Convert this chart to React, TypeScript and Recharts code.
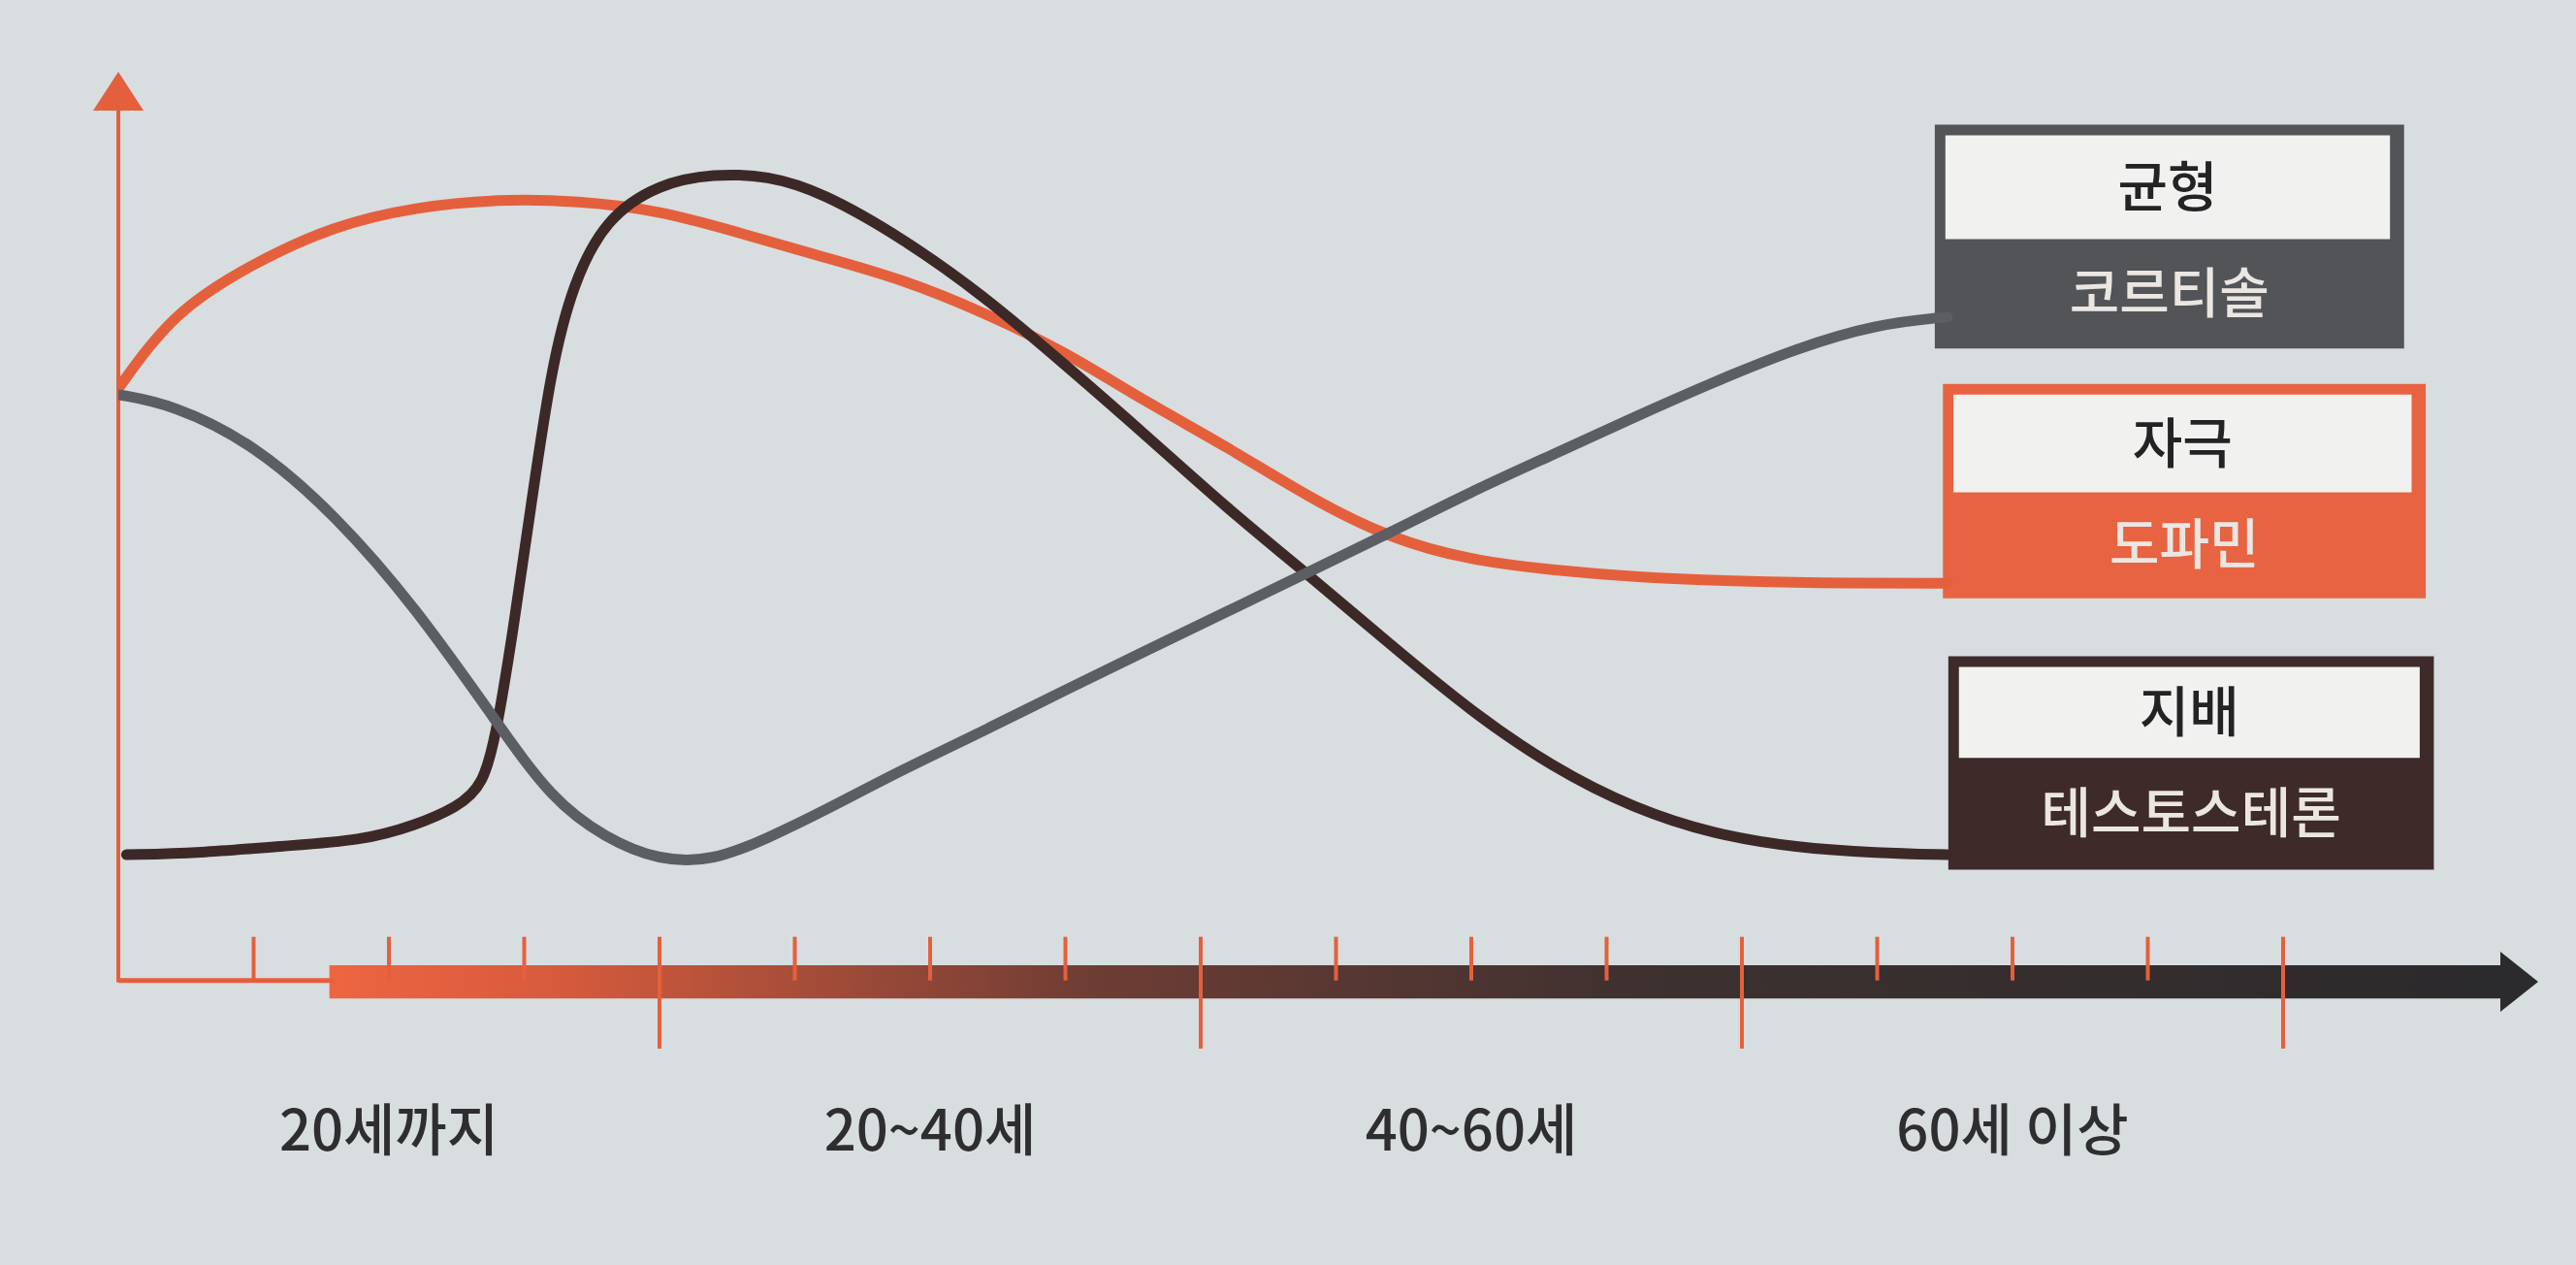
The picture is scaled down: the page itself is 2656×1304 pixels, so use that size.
import {
	Line,
	LineChart,
	ReferenceArea,
	ReferenceDot,
	ReferenceLine,
	XAxis,
	YAxis,
} from "recharts";

// x = 나이(세), 눈금 5세 간격, 20세마다 긴 눈금
const tickAges = [5, 10, 15, 20, 25, 30, 35, 40, 45, 50, 55, 60, 65, 70, 75, 80];
const longTickAges = [20, 40, 60, 80];
const groupTickAges = [10, 30, 50, 70];
const groupLabels = ["20세까지", "20~40세", "40~60세", "60세 이상"];

// 도파민 (자극)
const dopamineAges = [0, 2, 5, 8, 11, 14, 17, 20, 23, 26, 29, 32, 35, 38, 41, 44, 47, 50, 53, 56, 60, 64, 67.6];
const dopamineLevels = [67.5, 76.2, 81.9, 86.2, 88.3, 89.2, 89.0, 87.9, 85.3, 82.6, 80.0, 76.2, 71.7, 65.9, 60.8, 55.0, 50.3, 47.8, 46.7, 45.9, 45.4, 45.2, 45.2];

// 코르티솔 (균형)
const cortisolAges = [0, 2, 5, 8, 11, 14, 16, 18, 20, 22, 24, 26, 29, 32, 35, 38, 41, 44, 47, 50, 53, 56, 59, 62, 65, 67.6];
const cortisolLevels = [66.8, 65.7, 61.2, 53.1, 42.4, 29.2, 20.5, 16.0, 13.4, 13.4, 16.0, 19.0, 23.9, 28.3, 33.0, 37.5, 42.0, 46.5, 51.0, 55.7, 59.9, 64.2, 68.3, 72.1, 74.9, 75.7];

// 테스토스테론 (지배)
const testosteroneAges = [0.3, 3, 6, 9, 11, 12.5, 13.5, 14, 14.6, 15.2, 16, 16.8, 18, 20, 22, 24, 26, 29, 32, 35, 38, 41, 44, 47, 50, 53, 56, 59, 62, 65, 67.6];
const testosteroneLevels = [14.1, 14.3, 15.1, 15.7, 17.5, 19.5, 22.0, 28.5, 40.0, 53.0, 70.0, 79.5, 87.0, 91.0, 92.1, 91.9, 90.0, 84.7, 78.1, 70.2, 62.1, 53.7, 46.1, 38.2, 30.5, 24.1, 19.4, 16.4, 14.9, 14.3, 14.1];

const ORANGE = "#e4603d";
const GRAY = "#5b5f64";
const BROWN = "#3c2927";
const PAPER = "#d8dde0";
const INK = "#2e2e30";
const AXIS_DARK = "#2b2a2c";

const toRows = (ages: number[], levels: number[]) =>
	ages.map((age, i) => ({ age, level: levels[i] }));

// 오른쪽 라벨 상자 (나이/수준 좌표)
const legendBoxes = [
	{ top: "균형", bottom: "코르티솔", color: "#525458", x1: 67.2, x2: 84.4, y1: 72.3, y2: 97.5, split: 84.6 },
	{ top: "자극", bottom: "도파민", color: "#e76341", x1: 67.5, x2: 85.2, y1: 43.7, y2: 67.8, split: 55.6 },
	{ top: "지배", bottom: "테스토스테론", color: "#3e2b29", x1: 67.7, x2: 85.5, y1: 12.6, y2: 36.6, split: 25.2 },
];

const ArrowUp = (p: any) => (
	<polygon
		points={`${p.cx - 26},${p.cy + 6} ${p.cx},${p.cy - 34} ${p.cx + 26},${p.cy + 6}`}
		fill={ORANGE}
	/>
);

const ArrowRight = (p: any) => (
	<polygon
		points={`${p.cx - 2},${p.cy - 31} ${p.cx + 37},${p.cy} ${p.cx - 2},${p.cy + 31}`}
		fill={AXIS_DARK}
	/>
);

export default function App() {
	return (
		<div
			style={{
				position: "absolute",
				left: 0,
				top: 0,
				width: 2656,
				height: 1304,
				background: PAPER,
				fontFamily: '"Noto Sans CJK KR", "Noto Sans", sans-serif',
			}}
		>
			<LineChart
				width={2656}
				height={1304}
				margin={{ top: 108, right: 23, bottom: 0, left: 122 }}
			>
				<defs>
					<linearGradient id="axisGrad" x1="0" y1="0" x2="1" y2="0">
						<stop offset="0" stopColor="#ee6541" />
						<stop offset="0.1" stopColor="#d85b3d" />
						<stop offset="0.35" stopColor="#6e3d34" />
						<stop offset="0.6" stopColor="#3e3130" />
						<stop offset="1" stopColor={AXIS_DARK} />
					</linearGradient>
				</defs>
				<XAxis
					dataKey="age"
					type="number"
					domain={[0, 90]}
					ticks={groupTickAges}
					tickFormatter={(v) => groupLabels[groupTickAges.indexOf(v)] ?? ""}
					axisLine={false}
					tickLine={false}
					tickSize={0}
					tickMargin={137}
					height={296}
					tick={{ fontSize: 58, fill: INK, fontWeight: 500 }}
					allowDataOverflow
				/>
				<YAxis type="number" domain={[0, 100]} hide allowDataOverflow />

				{/* 눈금 */}
				{tickAges.map((a) => (
					<ReferenceLine
						key={`t${a}`}
						segment={[
							{ x: a, y: 4.7 },
							{ x: a, y: longTickAges.includes(a) ? -8.1 : -0.3 },
						]}
						stroke={ORANGE}
						strokeWidth={4}
						ifOverflow="visible"
					/>
				))}

				{/* 축 */}
				<ReferenceLine
					segment={[
						{ x: 0, y: -0.3 },
						{ x: 8, y: -0.3 },
					]}
					stroke={ORANGE}
					strokeWidth={5}
					ifOverflow="visible"
				/>
				<ReferenceLine
					segment={[
						{ x: 0, y: -0.5 },
						{ x: 0, y: 99.5 },
					]}
					stroke={ORANGE}
					strokeWidth={4}
					ifOverflow="visible"
				/>
				<ReferenceDot x={0} y={100} shape={ArrowUp} ifOverflow="visible" />
				<ReferenceArea
					x1={7.8}
					x2={88.2}
					y1={-2.35}
					y2={1.45}
					fill="url(#axisGrad)"
					fillOpacity={1}
					stroke="none"
					ifOverflow="visible"
				/>
				<ReferenceDot x={88.1} y={-0.45} shape={ArrowRight} ifOverflow="visible" />

				<Line
					data={toRows(dopamineAges, dopamineLevels)}
					dataKey="level"
					type="basis"
					stroke={ORANGE}
					strokeWidth={11}
					strokeLinecap="round"
					dot={false}
					activeDot={false}
					isAnimationActive={false}
				/>
				<Line
					data={toRows(testosteroneAges, testosteroneLevels)}
					dataKey="level"
					type="basis"
					stroke={BROWN}
					strokeWidth={11}
					strokeLinecap="round"
					dot={false}
					activeDot={false}
					isAnimationActive={false}
				/>
				<Line
					data={toRows(cortisolAges, cortisolLevels)}
					dataKey="level"
					type="basis"
					stroke={GRAY}
					strokeWidth={11}
					strokeLinecap="round"
					dot={false}
					activeDot={false}
					isAnimationActive={false}
				/>

				{/* 라벨 상자 */}
				{legendBoxes.map((b) => (
					<ReferenceArea
						key={`o${b.top}`}
						x1={b.x1}
						x2={b.x2}
						y1={b.y1}
						y2={b.y2}
						fill={b.color}
						fillOpacity={1}
						stroke={b.color}
						strokeWidth={4}
						ifOverflow="visible"
					/>
				))}
				{legendBoxes.map((b) => (
					<ReferenceArea
						key={`w${b.top}`}
						x1={b.x1 + 0.32}
						x2={b.x2 - 0.45}
						y1={b.split}
						y2={b.y2 - 1}
						fill="#f1f1ef"
						fillOpacity={1}
						stroke="none"
						ifOverflow="visible"
						label={{
							value: b.top,
							position: "center",
							fill: "#232325",
							fontSize: 56,
							fontWeight: 500,
						}}
					/>
				))}
				{legendBoxes.map((b) => (
					<ReferenceArea
						key={`b${b.top}`}
						x1={b.x1}
						x2={b.x2}
						y1={b.y1}
						y2={b.split}
						fill="none"
						stroke="none"
						ifOverflow="visible"
						label={{
							value: b.bottom,
							position: "center",
							fill: "#ebe6e2",
							fontSize: 56,
							fontWeight: 500,
						}}
					/>
				))}
			</LineChart>
		</div>
	);
}
